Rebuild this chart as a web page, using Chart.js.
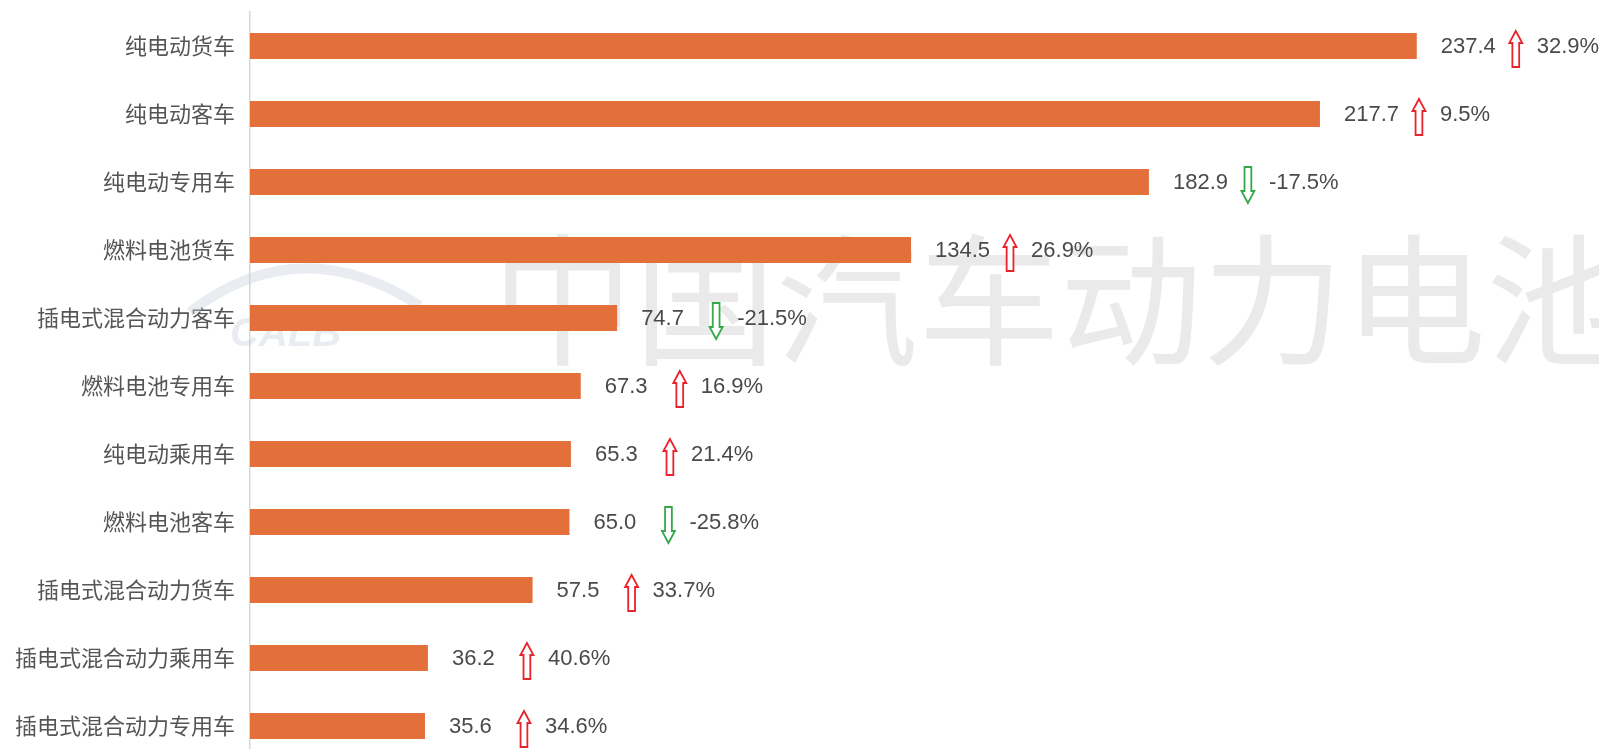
<!DOCTYPE html>
<html>
<head>
<meta charset="utf-8">
<script src="https://cdn.jsdelivr.net/npm/chart.js@4"></script>
<style>
  html, body { margin: 0; padding: 0; background: #ffffff; overflow: hidden; }
  #wrap { position: relative; width: 1599px; height: 760px; }
</style>
</head>
<body>
<div id="wrap"><canvas id="c"></canvas></div>
<script>
// ---- data ----
const categories = [
  '纯电动货车', '纯电动客车', '纯电动专用车', '燃料电池货车', '插电式混合动力客车',
  '燃料电池专用车', '纯电动乘用车', '燃料电池客车', '插电式混合动力货车',
  '插电式混合动力乘用车', '插电式混合动力专用车'
];
const values = [237.4, 217.7, 182.9, 134.5, 74.7, 67.3, 65.3, 65.0, 57.5, 36.2, 35.6];
const changes = [32.9, 9.5, -17.5, 26.9, -21.5, 16.9, 21.4, -25.8, 33.7, 40.6, 34.6];
const watermarkText = '中国汽车动力电池';

// ---- styling ----
const BAR_COLOR = '#E3703A';
const TEXT_COLOR = '#4a4a4a';
const UP_COLOR = '#E8232B';
const DOWN_COLOR = '#35A94A';

function drawArrow(ctx, cx, cy, up, color) {
  const h = 36, hw = 6.5, sw = 3.4, hh = 12;
  ctx.save();
  ctx.translate(cx, cy);
  if (!up) ctx.scale(1, -1);
  ctx.beginPath();
  ctx.moveTo(0, -h / 2);
  ctx.lineTo(hw, -h / 2 + hh);
  ctx.lineTo(sw, -h / 2 + hh);
  ctx.lineTo(sw, h / 2);
  ctx.lineTo(-sw, h / 2);
  ctx.lineTo(-sw, -h / 2 + hh);
  ctx.lineTo(-hw, -h / 2 + hh);
  ctx.closePath();
  ctx.fillStyle = '#ffffff';
  ctx.fill();
  ctx.lineWidth = 1.8;
  ctx.strokeStyle = color;
  ctx.stroke();
  ctx.restore();
}

const watermarkPlugin = {
  id: 'watermark',
  beforeDatasetsDraw(chart) {
    const ctx = chart.ctx;
    ctx.save();
    // faint logo
    ctx.strokeStyle = 'rgba(200,210,222,0.4)';
    ctx.lineWidth = 10;
    ctx.beginPath();
    ctx.moveTo(190, 312);
    ctx.quadraticCurveTo(300, 228, 420, 306);
    ctx.stroke();
    ctx.fillStyle = 'rgba(200,210,222,0.4)';
    ctx.font = 'italic bold 40px "Liberation Sans", sans-serif';
    ctx.textBaseline = 'middle';
    ctx.fillText('CALB', 230, 335);
    // big text
    ctx.fillStyle = 'rgba(190,190,190,0.33)';
    ctx.font = '400 142px "Noto Sans CJK SC", sans-serif';
    ctx.textBaseline = 'middle';
    ctx.textAlign = 'left';
    ctx.fillText(watermarkText, 492, 300);
    ctx.restore();
  }
};

const labelPlugin = {
  id: 'barLabels',
  afterDatasetsDraw(chart) {
    const ctx = chart.ctx;
    const meta = chart.getDatasetMeta(0);
    ctx.save();
    ctx.font = '22px "Liberation Sans", Arial, sans-serif';
    ctx.textBaseline = 'middle';
    ctx.textAlign = 'left';
    meta.data.forEach((bar, i) => {
      const x0 = bar.x + 24;
      const y = bar.y + 1;
      ctx.fillStyle = TEXT_COLOR;
      ctx.fillText(values[i].toFixed(1), x0, y);
      const ax = x0 + 75;
      const up = changes[i] >= 0;
      drawArrow(ctx, ax, y + 2, up, up ? UP_COLOR : DOWN_COLOR);
      ctx.fillStyle = TEXT_COLOR;
      ctx.fillText(changes[i].toFixed(1) + '%', ax + 21, y);
    });
    ctx.restore();
  }
};

new Chart(document.getElementById('c'), {
  type: 'bar',
  data: {
    labels: categories,
    datasets: [{
      data: values,
      backgroundColor: BAR_COLOR,
      borderWidth: 0,
      barPercentage: 0.385,
      categoryPercentage: 1.0
    }]
  },
  options: {
    indexAxis: 'y',
    responsive: true,
    maintainAspectRatio: false,
    animation: false,
    layout: { padding: { top: 12, bottom: 0, left: 0, right: 22 } },
    plugins: {
      legend: { display: false },
      tooltip: { enabled: false }
    },
    scales: {
      x: {
        display: false,
        min: 0,
        max: 270
      },
      y: {
        offset: true,
        grid: { display: false, drawTicks: false },
        border: { display: true, color: '#d6d6d6', width: 1.5 },
        ticks: {
          padding: 15,
          color: '#555555',
          font: { family: '"Noto Sans CJK SC", sans-serif', size: 22 }
        },
        afterFit(scale) {
          scale.width = 250;
          scale.paddingTop = 0;
          scale.paddingBottom = 0;
        }
      }
    }
  },
  plugins: [watermarkPlugin, labelPlugin]
});
</script>
</body>
</html>
